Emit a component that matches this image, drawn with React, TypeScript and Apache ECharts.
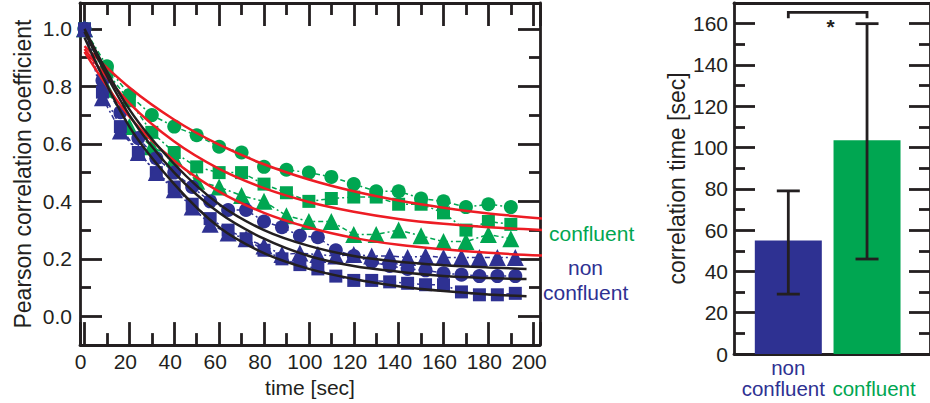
import React, { useEffect, useRef } from 'react';
import * as echarts from 'echarts';

// ---------- data: left panel (Pearson correlation vs time) ----------
const greenTimes = [0, 10, 20, 30, 40, 50, 60, 70, 80, 90, 100, 110, 120, 130, 140, 150, 160, 170, 180, 190];
const greenCircles = [1.0, 0.87, 0.77, 0.7, 0.66, 0.63, 0.59, 0.57, 0.52, 0.51, 0.5, 0.485, 0.46, 0.435, 0.435, 0.41, 0.4, 0.38, 0.39, 0.38];
const greenSquares = [1.0, 0.85, 0.75, 0.64, 0.57, 0.52, 0.5, 0.5, 0.46, 0.43, 0.4, 0.41, 0.415, 0.415, 0.39, 0.39, 0.36, 0.3, 0.33, 0.32];
const greenTriangles = [1.0, 0.79, 0.66, 0.59, 0.55, 0.47, 0.45, 0.42, 0.4, 0.35, 0.33, 0.33, 0.285, 0.285, 0.3, 0.28, 0.26, 0.26, 0.285, 0.27];

const blueTimes = [0, 8, 16, 24, 32, 40, 48, 56, 64, 72, 80, 88, 96, 104, 112, 120, 128, 136, 144, 152, 160, 168, 176, 184, 192];
const blueCircles = [1.0, 0.82, 0.71, 0.62, 0.55, 0.5, 0.45, 0.4, 0.37, 0.37, 0.33, 0.31, 0.28, 0.275, 0.23, 0.21, 0.19, 0.175, 0.165, 0.16, 0.15, 0.145, 0.14, 0.14, 0.14];
const blueSquares = [1.0, 0.78, 0.66, 0.57, 0.5, 0.45, 0.39, 0.34, 0.3, 0.27, 0.23, 0.2, 0.18, 0.165, 0.14, 0.125, 0.125, 0.12, 0.115, 0.11, 0.11, 0.085, 0.075, 0.075, 0.08];
const blueTriangles = [1.0, 0.76, 0.645, 0.57, 0.5, 0.44, 0.38, 0.32, 0.29, 0.27, 0.245, 0.215, 0.22, 0.215, 0.21, 0.215, 0.21, 0.21, 0.205, 0.21, 0.205, 0.205, 0.205, 0.205, 0.205];

// fitted curves
const redFitTimes = [0, 20, 40, 60, 80, 100, 120, 140, 160, 180, 205];
const redFit1 = [0.94, 0.796, 0.684, 0.597, 0.529, 0.476, 0.435, 0.403, 0.378, 0.358, 0.34];
const redFit2 = [0.93, 0.742, 0.608, 0.513, 0.446, 0.398, 0.364, 0.339, 0.322, 0.31, 0.3];
const redFit3 = [0.92, 0.695, 0.541, 0.434, 0.36, 0.309, 0.273, 0.249, 0.233, 0.221, 0.211];

const blackFitTimes = [0, 20, 40, 60, 80, 100, 120, 140, 160, 180, 197];
const blackFit1 = [1.0, 0.72, 0.53, 0.39, 0.3, 0.245, 0.21, 0.19, 0.178, 0.17, 0.165];
const blackFit2 = [0.99, 0.7, 0.5, 0.36, 0.27, 0.21, 0.175, 0.155, 0.14, 0.133, 0.13];
const blackFit3 = [0.97, 0.66, 0.46, 0.31, 0.22, 0.165, 0.13, 0.105, 0.088, 0.076, 0.07];

// ---------- data: right panel (correlation time) ----------
const barCategories = ['non confluent', 'confluent'];
const barPositions = [1, 2];
const barValues = [55, 103.5];
const barErrLow = [29, 46];
const barErrHigh = [79, 160];
const significance = [[1, 2, 165.5]];

const GREEN = '#00a651';
const BLUE = '#2e3192';
const RED = '#ed1c24';
const BLACK = '#231f20';
const AX = '#231f20';
const FONT = "'Liberation Sans', Arial, Helvetica, sans-serif";
const barColors = [BLUE, GREEN];

const pairs = (xs: number[], ys: number[]) => ys.map((y, i) => [xs[i], y]);

const axLine = { show: true, onZero: false, lineStyle: { color: AX, width: 2.8 } };

function frameAxis(extra: any) {
  return {
    type: 'value',
    axisLine: axLine,
    splitLine: { show: false },
    ...extra,
  };
}

function dataSeries(name: string, xs: number[], ys: number[], color: string, symbol: string, size: number) {
  return {
    name,
    type: 'line',
    xAxisIndex: 0,
    yAxisIndex: 0,
    data: pairs(xs, ys),
    symbol,
    symbolSize: size,
    showSymbol: true,
    showAllSymbol: true,
    itemStyle: { color },
    lineStyle: { color, width: 1.5, type: [5, 3, 2, 3] },
    z: 2,
  };
}

function fitSeries(name: string, xs: number[], ys: number[], color: string) {
  return {
    name,
    type: 'line',
    xAxisIndex: 0,
    yAxisIndex: 0,
    data: pairs(xs, ys),
    symbol: 'none',
    smooth: 0.35,
    lineStyle: { color, width: 2.5 },
    z: 5,
  };
}

export default function App() {
  const ref = useRef<HTMLDivElement>(null);
  useEffect(() => {
    if (!ref.current) return;
    const chart = echarts.init(ref.current, null, { renderer: 'svg' });

    const tickStyle = { color: AX, width: 2.8 };
    const xCommon = {
      min: -2,
      max: 203,
      splitNumber: 10,
      minInterval: 20,
      maxInterval: 20,
      axisTick: { show: true, inside: true, length: 23, lineStyle: tickStyle },
      minorTick: { show: true, splitNumber: 2, length: 12, lineStyle: tickStyle },
    };
    const yCommon = {
      min: -0.1,
      max: 1.09,
      splitNumber: 6,
      minInterval: 0.2,
      maxInterval: 0.2,
      axisTick: { show: true, inside: true, length: 22, lineStyle: tickStyle },
      minorTick: { show: true, splitNumber: 2, length: 11, lineStyle: tickStyle },
    };
    const bxCommon = { min: 0.31, max: 2.8, gridIndex: 1, axisTick: { show: false }, axisLabel: { show: false } };
    const byCommon = {
      min: 0,
      max: 170,
      splitNumber: 8,
      minInterval: 20,
      maxInterval: 20,
      gridIndex: 1,
      axisTick: { show: true, inside: true, length: 21, lineStyle: tickStyle },
      minorTick: { show: true, splitNumber: 2, length: 11, lineStyle: tickStyle },
    };

    const option: any = {
      animation: false,
      backgroundColor: '#ffffff',
      textStyle: { fontFamily: FONT },
      grid: [
        { left: 80, right: 390, top: 3, bottom: 57 },
        { left: 734, right: -6, top: 3, bottom: 49 },
      ],
      xAxis: [
        frameAxis({
          ...xCommon,
          gridIndex: 0,
          position: 'bottom',
          axisLabel: {
            color: AX, fontSize: 21, fontFamily: FONT, margin: 6,
            showMinLabel: false, showMaxLabel: false, padding: [0, 8, 0, 0],
          },
          name: 'time [sec]',
          nameLocation: 'middle',
          nameGap: 29,
          nameTextStyle: { color: AX, fontSize: 21, fontFamily: FONT },
        }),
        frameAxis({ ...xCommon, gridIndex: 0, position: 'top', axisLabel: { show: false } }),
        frameAxis({ ...bxCommon, position: 'bottom' }),
        frameAxis({ ...bxCommon, position: 'top' }),
      ],
      yAxis: [
        frameAxis({
          ...yCommon,
          gridIndex: 0,
          position: 'left',
          axisLabel: {
            color: AX, fontSize: 21, fontFamily: FONT, margin: 8,
            showMinLabel: false, showMaxLabel: false,
            formatter: (v: number) => v.toFixed(1),
          },
          name: 'Pearson correlation coefficient',
          nameLocation: 'middle',
          nameRotate: 90,
          nameGap: 46,
          nameTextStyle: { color: AX, fontSize: 23, fontFamily: FONT },
        }),
        frameAxis({ ...yCommon, gridIndex: 0, position: 'right', axisLabel: { show: false } }),
        frameAxis({
          ...byCommon,
          position: 'left',
          axisLabel: {
            color: AX, fontSize: 21, fontFamily: FONT, margin: 6,
            showMaxLabel: false,
          },
          name: 'correlation time [sec]',
          nameLocation: 'middle',
          nameRotate: 90,
          nameGap: 46,
          nameTextStyle: { color: AX, fontSize: 23, fontFamily: FONT },
        }),
        frameAxis({ ...byCommon, position: 'right', axisLabel: { show: false } }),
      ],
      series: [
        dataSeries('green circles', greenTimes, greenCircles, GREEN, 'circle', 14),
        dataSeries('green squares', greenTimes, greenSquares, GREEN, 'rect', 13),
        dataSeries('green triangles', greenTimes, greenTriangles, GREEN, 'triangle', 17),
        dataSeries('blue circles', blueTimes, blueCircles, BLUE, 'circle', 14),
        dataSeries('blue squares', blueTimes, blueSquares, BLUE, 'rect', 13),
        dataSeries('blue triangles', blueTimes, blueTriangles, BLUE, 'triangle', 17),
        fitSeries('red fit 1', redFitTimes, redFit1, RED),
        fitSeries('red fit 2', redFitTimes, redFit2, RED),
        fitSeries('red fit 3', redFitTimes, redFit3, RED),
        fitSeries('black fit 1', blackFitTimes, blackFit1, BLACK),
        fitSeries('black fit 2', blackFitTimes, blackFit2, BLACK),
        fitSeries('black fit 3', blackFitTimes, blackFit3, BLACK),
        {
          name: 'correlation time',
          type: 'bar',
          xAxisIndex: 2,
          yAxisIndex: 2,
          barWidth: 67,
          data: barValues.map((v, i) => ({
            value: [barPositions[i], v],
            itemStyle: { color: barColors[i] },
          })),
          z: 2,
        },
        {
          name: 'error',
          type: 'custom',
          xAxisIndex: 2,
          yAxisIndex: 2,
          data: barPositions.map((p, i) => [p, barErrLow[i], barErrHigh[i]]),
          renderItem: (params: any, api: any) => {
            const x = api.value(0);
            const lo = api.coord([x, api.value(1)]);
            const hi = api.coord([x, api.value(2)]);
            const w = 11.5;
            const st = { stroke: AX, lineWidth: 2.8 };
            return {
              type: 'group',
              children: [
                { type: 'line', shape: { x1: lo[0], y1: lo[1], x2: hi[0], y2: hi[1] }, style: st },
                { type: 'line', shape: { x1: lo[0] - w, y1: lo[1], x2: lo[0] + w, y2: lo[1] }, style: st },
                { type: 'line', shape: { x1: hi[0] - w, y1: hi[1], x2: hi[0] + w, y2: hi[1] }, style: st },
              ],
            };
          },
          z: 4,
        },
        {
          name: 'category labels',
          type: 'custom',
          xAxisIndex: 2,
          yAxisIndex: 2,
          clip: false,
          silent: true,
          data: barPositions.map((p, i) => [p, 0, i]),
          renderItem: (params: any, api: any) => {
            const i = api.value(2);
            const p = api.coord([api.value(0), api.value(1)]);
            const words = barCategories[i].split(' ');
            const color = barColors[i];
            const children: any[] = [];
            if (words.length === 2) {
              children.push({ type: 'text', x: p[0], y: p[1] + 13, style: { text: words[0], fill: color, fontSize: 20.5, fontFamily: FONT, align: 'center', verticalAlign: 'middle' } });
              children.push({ type: 'text', x: p[0] - 5, y: p[1] + 34, style: { text: words[1], fill: color, fontSize: 20.5, fontFamily: FONT, align: 'center', verticalAlign: 'middle' } });
            } else {
              children.push({ type: 'text', x: p[0] + 7, y: p[1] + 34, style: { text: words[0], fill: color, fontSize: 20.5, fontFamily: FONT, align: 'center', verticalAlign: 'middle' } });
            }
            return { type: 'group', children };
          },
          z: 4,
        },
        {
          name: 'significance',
          type: 'custom',
          xAxisIndex: 2,
          yAxisIndex: 2,
          data: significance,
          clip: false,
          renderItem: (params: any, api: any) => {
            const p1 = api.coord([api.value(0), api.value(2)]);
            const p2 = api.coord([api.value(1), api.value(2)]);
            return {
              type: 'group',
              children: [
                {
                  type: 'polyline',
                  shape: { points: [[p1[0], p1[1] + 6], [p1[0], p1[1]], [p2[0], p2[1]], [p2[0], p2[1] + 6]] },
                  style: { stroke: AX, lineWidth: 2.8, fill: 'none' },
                },
                {
                  type: 'text',
                  x: (p1[0] + p2[0]) / 2 + 3,
                  y: p1[1] + 4,
                  style: { text: '*', fill: AX, fontSize: 21, fontWeight: 'bold', fontFamily: FONT, align: 'center', verticalAlign: 'top' },
                },
              ],
            };
          },
          z: 4,
        },
      ],
      graphic: [
        { type: 'text', x: 549, y: 233, style: { text: 'confluent', fill: GREEN, fontSize: 21, fontFamily: FONT, align: 'left', verticalAlign: 'middle' } },
        { type: 'text', x: 568, y: 267, style: { text: 'non', fill: BLUE, fontSize: 21, fontFamily: FONT, align: 'left', verticalAlign: 'middle' } },
        { type: 'text', x: 543, y: 292, style: { text: 'confluent', fill: BLUE, fontSize: 21, fontFamily: FONT, align: 'left', verticalAlign: 'middle' } },
      ],
    };

    chart.setOption(option);
    return () => chart.dispose();
  }, []);

  return (
    <div
      ref={ref}
      style={{ position: 'fixed', left: 0, top: 0, width: 930, height: 403, background: '#ffffff' }}
    />
  );
}
